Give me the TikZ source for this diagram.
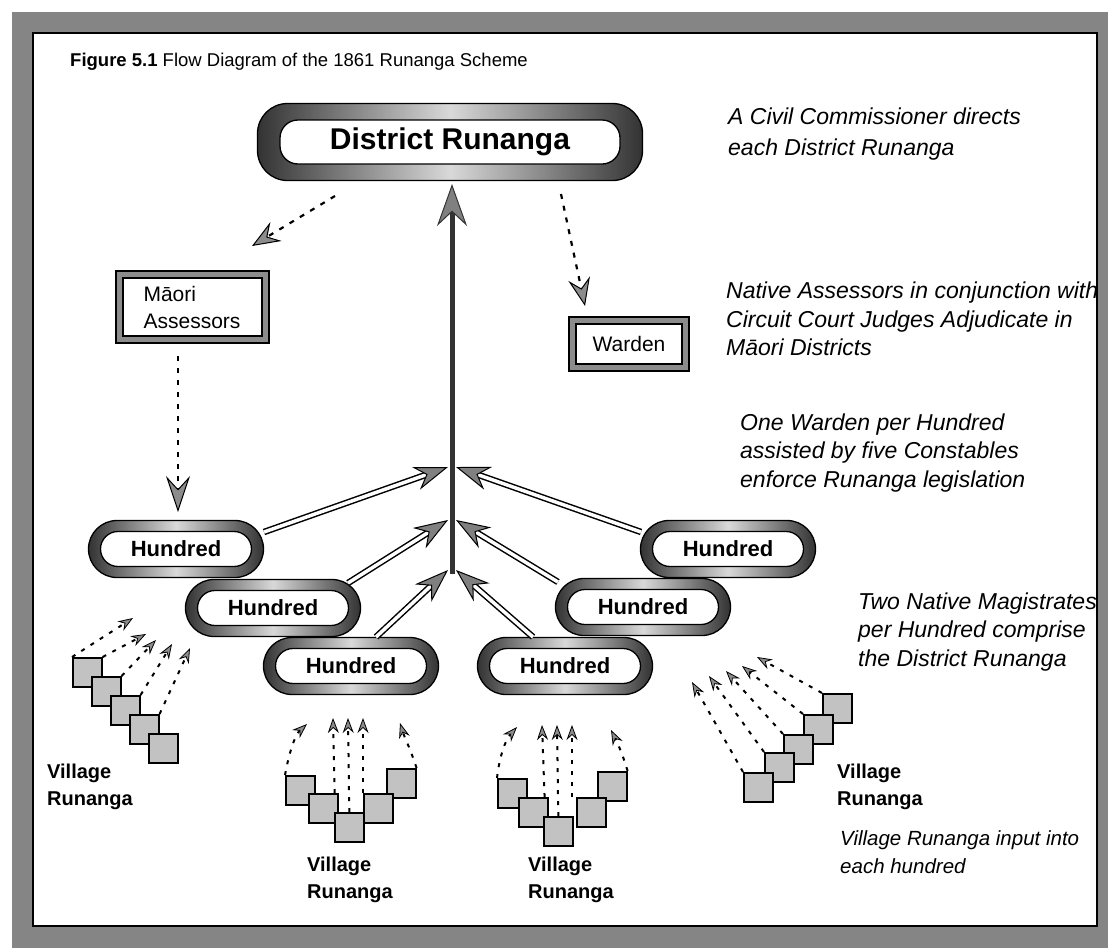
\documentclass[tikz,border=0pt]{standalone}
\usepackage{fontspec}
\setmainfont{Liberation Sans}
\usetikzlibrary{arrows.meta,calc,shapes.misc}
\tikzset{
  ringfill/.style={left color=black!80, right color=black!80, middle color=black!15, draw=black, line width=1.3pt},
  hring/.style={rounded rectangle, ringfill, minimum width=175pt, minimum height=57pt, inner sep=0pt, outer sep=0pt},
  hin/.style={rounded rectangle, fill=white, draw=black, line width=1.3pt, minimum width=151pt, minimum height=35pt, inner sep=0pt, font=\fontsize{22}{26}\selectfont\bfseries},
  dring/.style={rectangle, rounded corners=30pt, ringfill, minimum width=385pt, minimum height=77pt, inner sep=0pt, outer sep=0pt},
  din/.style={rectangle, rounded corners=18pt, fill=white, draw=black, line width=1.3pt, minimum width=340pt, minimum height=44pt, inner sep=0pt, font=\fontsize{30}{34}\selectfont\bfseries},
  sqbox/.style={rectangle, fill=black!24, draw=black, line width=1.6pt, minimum size=29pt, inner sep=0pt, anchor=north west},
  dblbox/.style={rectangle, draw=black, line width=2pt, double=black!45, double distance=5pt, fill=white, inner sep=0pt, font=\fontsize{21}{27}\selectfont},
  dasharrow/.style={line width=2.2pt, dash pattern=on 5pt off 7pt, -{Stealth[length=28pt,width=22pt,inset=10pt,fill=black!45,line width=1pt]}},
  smallarrow/.style={line width=2pt, dash pattern=on 4pt off 7pt, -{Stealth[length=15pt,width=11pt,inset=5pt,fill=black!45,line width=0.8pt]}},
  dbl/.style={draw=black, line width=1.5pt, double=white, double distance=3.5pt},
  dbltip/.style={line width=1pt, -{Stealth[length=34pt,width=24pt,inset=11pt,fill=black!50,line width=1pt]}},
  note/.style={font=\fontsize{23}{28.5}\selectfont\itshape, align=left, anchor=west, inner sep=0pt},
  vlabel/.style={font=\fontsize{20}{27}\selectfont\bfseries, align=left, anchor=west, inner sep=0pt},
}
\newcommand\dblarrow[2]{\draw[dbl, shorten >=16pt] (#1) -- (#2); \draw[dbltip] ($(#1)!0.95!(#2)$) -- (#2);}
\begin{document}
\begin{tikzpicture}[x=1pt,y=-1pt]
\useasboundingbox (0,0) rectangle (1108,948);
% frame
\fill[black!48] (12,12) rectangle (1108,948);
\fill[white] (33,33) rectangle (1097,926);
\draw[line width=1.2pt] (33,33) rectangle (1097,926);

\node[anchor=west, inner sep=0pt, font=\fontsize{18.5}{22}\selectfont] (title) at (70,62) {\textbf{Figure 5.1} Flow Diagram of the 1861 Runanga Scheme};

% District Runanga
\node[dring] (dist) at (450,142) {};
\node[din] (distin) at (450,142) {District Runanga};

% notes
\node[note] (n1) at (728,134) {A Civil Commissioner directs\\[3pt]each District Runanga};
\node[note] (n2) at (726,319) {Native Assessors in conjunction with\\Circuit Court Judges Adjudicate in\\Māori Districts};
\node[note] (n3) at (740,453) {One Warden per Hundred\\assisted by five Constables\\enforce Runanga legislation};
\node[note] (n4) at (858,632) {Two Native Magistrates\\per Hundred comprise\\the District Runanga};
\node[note, font=\fontsize{20.5}{27.5}\selectfont\itshape] (n5) at (840,852) {Village Runanga input into\\each hundred};

% boxes
\node[dblbox, minimum width=146pt, minimum height=65pt, align=left] (maori) at (192,307) {Māori\\Assessors};
\node[dblbox, minimum width=113pt, minimum height=47pt] (warden) at (629,344) {Warden};

% dashed arrows from District Runanga
\coordinate (dm) at (335,196); \coordinate (dmt) at (252,246);
\draw[dasharrow] (dm) -- (dmt);
\coordinate (dw) at (561,194); \coordinate (dwt) at (585,306);
\draw[dasharrow] (dw) -- (dwt);
\coordinate (ma) at (178,356); \coordinate (mat) at (178,512);
\draw[dasharrow, -{Stealth[length=36pt,width=24pt,inset=13pt,fill=black!45,line width=1pt]}] (ma) -- (mat);

% Hundreds
\node[hring] (h1) at (176,549) {}; \node[hin] (h1i) at (176,549) {Hundred};
\node[hring] (h2) at (273,608) {}; \node[hin] (h2i) at (273,608) {Hundred};
\node[hring] (h3) at (351,666) {}; \node[hin] (h3i) at (351,666) {Hundred};
\node[hring] (h4) at (565,666) {}; \node[hin] (h4i) at (565,666) {Hundred};
\node[hring] (h5) at (643,607) {}; \node[hin] (h5i) at (643,607) {Hundred};
\node[hring] (h6) at (728,549) {}; \node[hin] (h6i) at (728,549) {Hundred};

% central shaft
\coordinate (sbot) at (452,574); \coordinate (stop) at (452,184);
\draw[line width=5pt, black!80, -{Stealth[length=42pt,width=30pt,inset=14pt,fill=black!50,line width=1pt]}] (sbot) -- (stop);

% double arrows
\coordinate (a1) at (264,532); \coordinate (j1l) at (448,467);
\coordinate (a6) at (641,532); \coordinate (j1r) at (456,467);
\coordinate (a2) at (348,583); \coordinate (j2l) at (448,520);
\coordinate (a5) at (558,582); \coordinate (j2r) at (456,520);
\coordinate (a3) at (376,637); \coordinate (j3l) at (448,570);
\coordinate (a4) at (533,637); \coordinate (j3r) at (456,570);
\dblarrow{a1}{j1l}
\dblarrow{a6}{j1r}
\dblarrow{a2}{j2l}
\dblarrow{a5}{j2r}
\dblarrow{a3}{j3l}
\dblarrow{a4}{j3r}

% left village group
\coordinate (lt1) at (133,618); \coordinate (lt2) at (146,634); \coordinate (lt3) at (156,640);
\coordinate (lt4) at (172,644); \coordinate (lt5) at (190,648);
\node[sqbox] (L1) at (72,657) {};
\node[sqbox] (L2) at (91,676) {};
\node[sqbox] (L3) at (110,695) {};
\node[sqbox] (L4) at (129,714) {};
\node[sqbox] (L5) at (148,733) {};
\draw[smallarrow] (L1.north west) -- (lt1);
\draw[smallarrow] (L1.north east) -- (lt2);
\draw[smallarrow] (L2.north east) -- (lt3);
\draw[smallarrow] (L3.north east) -- (lt4);
\draw[smallarrow] (L4.north east) -- (lt5);
\node[vlabel] (vl1) at (47,787) {Village\\Runanga};

% bottom-left village group
\coordinate (bt1) at (307,724); \coordinate (bt2) at (333,718); \coordinate (bt3) at (348,718);
\coordinate (bt4) at (363,718); \coordinate (bt5) at (400,723);
\node[sqbox] (B1) at (285,775) {};
\node[sqbox] (B5) at (386,768) {};
\node[sqbox] (B2) at (308,793) {};
\node[sqbox] (B4) at (363,793) {};
\node[sqbox] (B3) at (334,812) {};
\draw[smallarrow] (B1.north west) .. controls (290,748) and (296,734) .. (bt1);
\draw[smallarrow] ($(B2.north east)+(-4,0)$) -- (bt2);
\draw[smallarrow] (B3.north) -- (bt3);
\draw[smallarrow] (B4.north west) -- (bt4);
\draw[smallarrow] (B5.north east) .. controls (410,748) and (404,736) .. (bt5);
\node[vlabel] (vl2) at (307,880) {Village\\Runanga};

% bottom-right village group
\coordinate (ct1) at (517,727); \coordinate (ct2) at (542,725); \coordinate (ct3) at (557,725);
\coordinate (ct4) at (572,725); \coordinate (ct5) at (611,730);
\node[sqbox] (C1) at (497,778) {};
\node[sqbox] (C5) at (597,771) {};
\node[sqbox] (C2) at (518,797) {};
\node[sqbox] (C4) at (576,797) {};
\node[sqbox] (C3) at (543,816) {};
\draw[smallarrow] (C1.north west) .. controls (500,752) and (507,738) .. (ct1);
\draw[smallarrow] ($(C2.north east)+(-4,0)$) -- (ct2);
\draw[smallarrow] (C3.north) -- (ct3);
\draw[smallarrow] ($(C4.north west)+(-4,0)$) -- (ct4);
\draw[smallarrow] (C5.north east) .. controls (622,752) and (616,740) .. (ct5);
\node[vlabel] (vl3) at (528,880) {Village\\Runanga};

% right village group
\coordinate (rt1) at (757,657); \coordinate (rt2) at (742,666); \coordinate (rt3) at (726,671);
\coordinate (rt4) at (709,676); \coordinate (rt5) at (692,682);
\node[sqbox] (R1) at (822,693) {};
\node[sqbox] (R2) at (803,714) {};
\node[sqbox] (R3) at (783,734) {};
\node[sqbox] (R4) at (764,752) {};
\node[sqbox] (R5) at (743,772) {};
\draw[smallarrow] (R1.north west) -- (rt1);
\draw[smallarrow] (R2.north west) -- (rt2);
\draw[smallarrow] (R3.north west) -- (rt3);
\draw[smallarrow] (R4.north west) -- (rt4);
\draw[smallarrow] (R5.north west) -- (rt5);
\node[vlabel] (vl4) at (837,787) {Village\\Runanga};
\end{tikzpicture}
\end{document}
